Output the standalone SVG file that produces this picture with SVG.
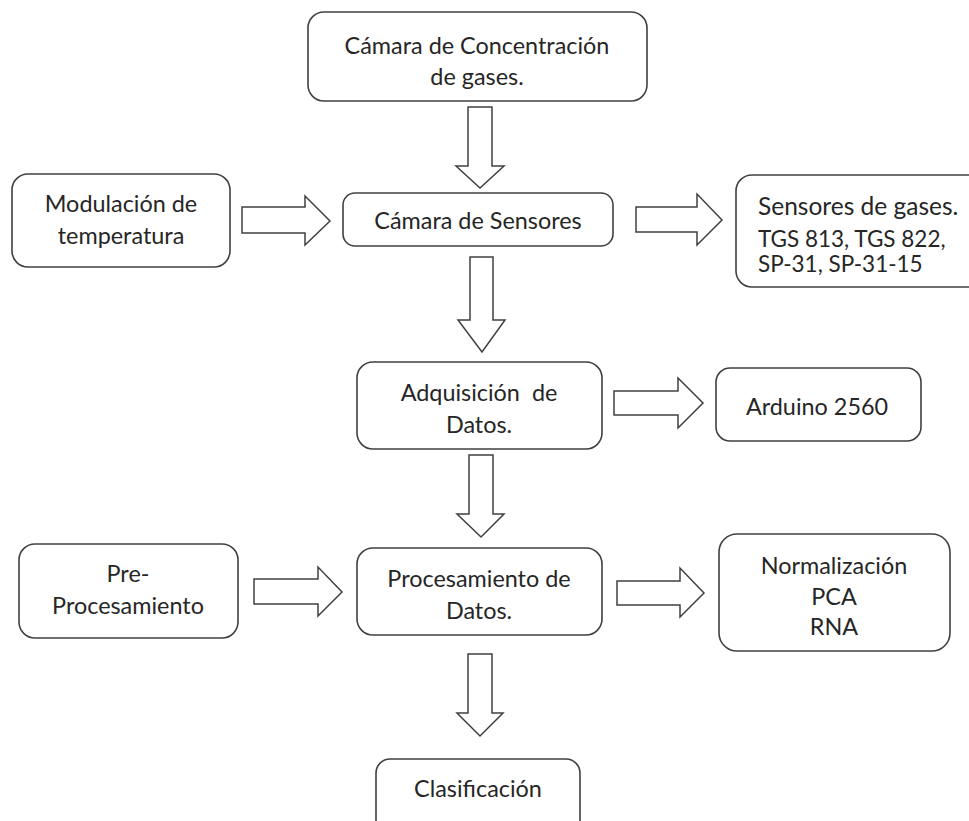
<svg xmlns="http://www.w3.org/2000/svg" width="969" height="821" viewBox="0 0 969 821">
<style>
.box{fill:#fff;stroke:#404040;stroke-width:1.6}
.arr{fill:#fff;stroke:#404040;stroke-width:1.5;stroke-linejoin:miter}
text{font-family:Lato,"Open Sans",sans-serif;font-size:23.4px;fill:#262626;text-anchor:middle;dominant-baseline:central}
.sm{font-size:22.5px;text-anchor:start}
.lg{font-size:24.5px;text-anchor:start}
</style>
<rect width="969" height="821" fill="#fff"/>
<g id="connectors">
<path class="arr" d="M468,107 H492 V166 H504 L480,188 L456,166 H468 Z"/>
<path class="arr" d="M242,207 H305 V196 L330,221 L305,245 V233 H242 Z"/>
<path class="arr" d="M636,207 H697 V194 L722,220 L697,245 V232 H636 Z"/>
<path class="arr" d="M470,257 H493 V320 H505 L482,352 L458,320 H470 Z"/>
<path class="arr" d="M614,391 H678 V378 L703,403 L678,428 V415 H614 Z"/>
<path class="arr" d="M469,455 H493 V514 H504 L481,537 L457,514 H469 Z"/>
<path class="arr" d="M254,579 H318 V567 L342,592 L318,616 V604 H254 Z"/>
<path class="arr" d="M617,581 H680 V568 L704,593 L680,617 V605 H617 Z"/>
<path class="arr" d="M468,654 H492 V713 H503 L480,736 L457,713 H468 Z"/>
</g>
<g id="n1"><rect class="box" x="308" y="12" width="339" height="89" rx="16"/><text x="477" y="45">Cámara de Concentración</text><text x="477" y="76">de gases.</text></g>
<g id="n2"><rect class="box" x="12" y="174" width="218" height="93" rx="16"/><text x="121" y="203">Modulación de</text><text x="121" y="235">temperatura</text></g>
<g id="n3"><rect class="box" x="343" y="193" width="270" height="53" rx="12"/><text x="478" y="220">Cámara de Sensores</text></g>
<g id="n4"><rect class="box" x="736" y="175" width="250" height="112" rx="16"/><text class="lg" x="758" y="205">Sensores de gases.</text><text class="sm" x="758" y="238">TGS 813, TGS 822,</text><text class="sm" x="758" y="263">SP-31, SP-31-15</text></g>
<g id="n5"><rect class="box" x="357" y="362" width="245" height="87" rx="16"/><text x="479" y="392" xml:space="preserve">Adquisición  de</text><text x="479" y="424">Datos.</text></g>
<g id="n6"><rect class="box" x="716" y="368" width="205" height="73" rx="14"/><text x="817" y="406">Arduino 2560</text></g>
<g id="n7"><rect class="box" x="19" y="544" width="219" height="94" rx="16"/><text x="128" y="573">Pre-</text><text x="128" y="605">Procesamiento</text></g>
<g id="n8"><rect class="box" x="357" y="548" width="245" height="87" rx="16"/><text x="479" y="578">Procesamiento de</text><text x="479" y="610">Datos.</text></g>
<g id="n9"><rect class="box" x="719" y="534" width="231" height="117" rx="18"/><text x="834" y="565">Normalización</text><text x="834" y="596">PCA</text><text x="834" y="626">RNA</text></g>
<g id="n10"><rect class="box" x="376" y="759" width="204" height="80" rx="14"/><text x="478" y="788">Clasificación</text></g>
</svg>
